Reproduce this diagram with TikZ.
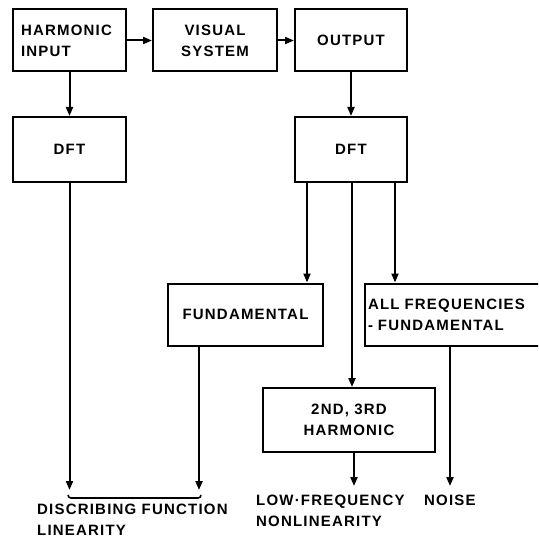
\documentclass[tikz,border=0pt]{standalone}
\usepackage{fontspec}
\newfontfamily\diagfont[LetterSpace=8]{Liberation Sans}
\usetikzlibrary{arrows.meta,positioning}

\begin{document}
\begin{tikzpicture}[
    x=1pt, y=-1pt,
    box/.style={rectangle, draw, line width=2pt, minimum height=62pt, inner sep=2pt, align=center,
      font=\diagfont\bfseries\fontsize{15}{21}\selectfont},
    lbl/.style={anchor=north west, inner sep=0pt, align=left, font=\diagfont\bfseries\fontsize{15}{21}\selectfont},
    arr/.style={-{Triangle[length=9pt,width=7pt]}, line width=2pt}
]
\clip (0,0) rectangle (538,545);
% top row
\node[box, minimum width=113pt, text width=97pt, align=left] (hin) at (69.5,40.5) {HARMONIC\\INPUT};
\node[box, minimum width=124pt] (vis) at (215,40.5) {VISUAL\\SYSTEM};
\node[box, minimum width=112pt] (out) at (351,40.5) {OUTPUT};
% transforms
\node[box, minimum width=113pt, minimum height=65pt] (dftl) at (69.5,149.5) {DFT};
\node[box, minimum width=112pt, minimum height=65pt] (dftr) at (351,149.5) {DFT};
% components
\node[box, minimum width=155pt] (fund) at (245.5,314.5) {FUNDAMENTAL};
\node[box, minimum width=182pt, text width=176pt, align=left] (allf) at (456,314.5) {ALL FREQUENCIES\\- FUNDAMENTAL};
\node[box, minimum width=172pt, minimum height=64pt] (harm) at (349,420) {2ND, 3RD\\HARMONIC};
% results
\node[lbl] (desc) at (37,504) {DISCRIBING FUNCTION\\LINEARITY};
\node[lbl] (lowf) at (256,495) {LOW·FREQUENCY\\NONLINEARITY};
\node[lbl] (noise) at (424,495) {NOISE};
\coordinate (ends) at (0,490);
\coordinate (ends2) at (0,486);
\coordinate (brk) at (0,498);
\coordinate (brkup) at (0,495);

\draw[arr] (hin) -- (vis);
\draw[arr] (vis) -- (out);
\draw[arr] (hin) -- (dftl);
\draw[arr] (out) -- (dftr);
\draw[arr] ([xshift=-44pt]dftr.south) -- ([xshift=-44pt]dftr.south |- fund.north);
\draw[arr] ([xshift=1pt]dftr.south) -- ([xshift=1pt]dftr.south |- harm.north);
\draw[arr] ([xshift=44pt]dftr.south) -- ([xshift=44pt]dftr.south |- allf.north);
\draw[arr] (dftl.south) -- (dftl.south |- ends);
\draw[arr] ([xshift=-46.5pt]fund.south) -- ([xshift=-46.5pt]fund.south |- ends);
\draw[arr] ([xshift=5pt]harm.south) -- ([xshift=5pt]harm.south |- ends2);
\draw[arr] ([xshift=-6pt]allf.south) -- ([xshift=-6pt]allf.south |- ends2);
\draw[line width=1.6pt, rounded corners=3pt] ([xshift=-1.5pt]dftl.south |- brkup) -- ([xshift=-1.5pt]dftl.south |- brk)
  -- ([xshift=-44.5pt]fund.south |- brk) -- ([xshift=-44.5pt]fund.south |- brkup);
\end{tikzpicture}
\end{document}
